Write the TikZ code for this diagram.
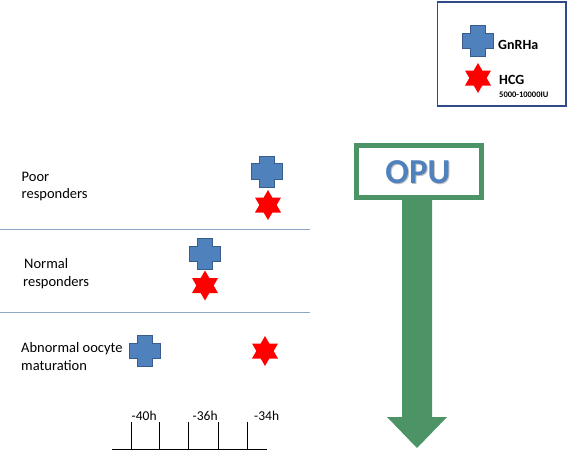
\documentclass[tikz,border=0pt]{standalone}
\usepackage{fontspec}
\setmainfont{Carlito}
\definecolor{crossfill}{RGB}{79,129,189}
\definecolor{crossedge}{RGB}{56,93,138}
\definecolor{opugreen}{RGB}{76,148,102}
\definecolor{legendedge}{RGB}{46,74,135}
\definecolor{sepline}{RGB}{142,167,201}
\definecolor{opublue}{RGB}{79,129,189}
\tikzset{
  crossstyle/.style={fill=crossfill,draw=crossedge,line width=0.8pt},
  gnrh/.pic={\draw[crossstyle] (-7.75,-15.5) -- (7.75,-15.5) -- (7.75,-7.75) -- (15.5,-7.75) -- (15.5,7.75) -- (7.75,7.75) -- (7.75,15.5) -- (-7.75,15.5) -- (-7.75,7.75) -- (-15.5,7.75) -- (-15.5,-7.75) -- (-7.75,-7.75) -- cycle;},
  hcg/.pic={\fill[red] (90:15) -- (120:8.66) -- (150:15) -- (180:8.66) -- (210:15) -- (240:8.66) -- (270:15) -- (300:8.66) -- (330:15) -- (0:8.66) -- (30:15) -- (60:8.66) -- cycle;},
  grouplabel/.style={anchor=base west,inner sep=0pt,font=\fontsize{14.5}{17}\selectfont},
  ticklabel/.style={anchor=base west,inner sep=0pt,font=\fontsize{13.5}{16}\selectfont},
  legendlabel/.style={anchor=base west,inner sep=0pt,font=\bfseries\fontsize{14}{16}\selectfont},
}
\begin{document}
\begin{tikzpicture}[x=1pt,y=-1pt]
\useasboundingbox (0,0) rectangle (568,450);
% legend
\draw[legendedge,line width=1.5pt] (437.5,2) rectangle (566,106);
\pic at (478,41) {gnrh};
\pic at (478,78) {hcg};
\node[legendlabel] (lg1) at (498,49) {GnRHa};
\node[legendlabel] (lg2) at (499,84) {HCG};
\node[anchor=base west,inner sep=0pt,font=\bfseries\fontsize{8.5}{10}\selectfont] (lg3) at (499,97.5) {5000-10000IU};
% separators
\draw[sepline,line width=1pt] (0,229) -- (310,229);
\draw[sepline,line width=1pt] (0,312) -- (310,312);
% group labels
\node[grouplabel] (p1) at (21.5,181) {Poor};
\node[grouplabel] (p2) at (21.5,198.5) {responders};
\node[grouplabel] (n1) at (24,268.5) {Normal};
\node[grouplabel] (n2) at (23,286.5) {responders};
\node[grouplabel] (a1) at (21,352.5) {Abnormal oocyte};
\node[grouplabel] (a2) at (21,370.5) {maturation};
% symbols
\pic at (267,171.5) {gnrh};
\pic at (268,205) {hcg};
\pic at (205,254) {gnrh};
\pic at (205,285.5) {hcg};
\pic at (145,351) {gnrh};
\pic at (265,351) {hcg};
% timeline
\draw[black,line width=0.9pt] (112,449) -- (267,449);
\foreach \x in {131,159,188,218,247} \draw[black,line width=0.9pt] (\x,449) -- (\x,422);
\node[ticklabel] (t1) at (131.5,420) {-40h};
\node[ticklabel] (t2) at (192.5,420) {-36h};
\node[ticklabel] (t3) at (254,420) {-34h};
% OPU arrow
\fill[opugreen] (402,199) -- (402,417) -- (387,417) -- (417,448) -- (447,417) -- (432,417) -- (432,199) -- cycle;
\draw[opugreen,line width=5pt,fill=white] (356.5,145.5) rectangle (481.5,197.5);
\node[inner sep=0pt,text=black!25,font=\bfseries\fontsize{35}{40}\selectfont] at (419,173.5) {OPU};
\node[inner sep=0pt,text=opublue,font=\bfseries\fontsize{35}{40}\selectfont] (opu) at (418,172.5) {OPU};
\end{tikzpicture}
\end{document}
